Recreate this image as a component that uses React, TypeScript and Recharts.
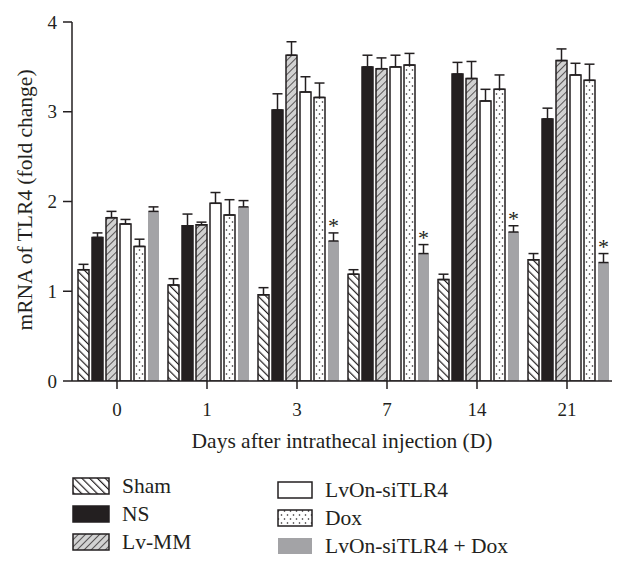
import { BarChart, Bar, XAxis, YAxis, ErrorBar, LabelList } from 'recharts';

const days = ['0', '1', '3', '7', '14', '21'];

const sham = [1.24, 1.07, 0.96, 1.19, 1.13, 1.35];
const shamErr = [0.06, 0.07, 0.08, 0.05, 0.06, 0.07];
const ns = [1.6, 1.73, 3.02, 3.5, 3.42, 2.92];
const nsErr = [0.05, 0.13, 0.18, 0.13, 0.13, 0.12];
const lvmm = [1.82, 1.74, 3.63, 3.48, 3.37, 3.57];
const lvmmErr = [0.07, 0.03, 0.15, 0.12, 0.19, 0.13];
const lvon = [1.75, 1.98, 3.22, 3.5, 3.12, 3.41];
const lvonErr = [0.05, 0.12, 0.17, 0.13, 0.13, 0.13];
const dox = [1.5, 1.85, 3.16, 3.52, 3.25, 3.35];
const doxErr = [0.08, 0.17, 0.16, 0.13, 0.16, 0.18];
const combo = [1.89, 1.94, 1.56, 1.42, 1.66, 1.32];
const comboErr = [0.05, 0.07, 0.09, 0.1, 0.07, 0.1];
const significant = [false, false, true, true, true, true];

const yTicks = [0, 1, 2, 3, 4];

const data = days.map((d, i) => ({
  day: d,
  sham: sham[i],
  shamErr: [0, shamErr[i]],
  ns: ns[i],
  nsErr: [0, nsErr[i]],
  lvmm: lvmm[i],
  lvmmErr: [0, lvmmErr[i]],
  lvon: lvon[i],
  lvonErr: [0, lvonErr[i]],
  dox: dox[i],
  doxErr: [0, doxErr[i]],
  combo: combo[i],
  comboErr: [0, comboErr[i]],
}));

const FONT = '"Liberation Serif", "DejaVu Serif", serif';
const INK = '#231f20';
const GRAY = '#a3a3a6';

// asterisk sits just above the error bar of the gray bar
const Star = (props: any) => {
  const { x, y, width, height, value, index } = props;
  if (!significant[index]) return null;
  const errPx = (comboErr[index] * height) / value;
  return (
    <text
      x={x + width / 2}
      y={y - errPx}
      textAnchor="middle"
      fontFamily={FONT}
      fontSize={22}
      fill={INK}
    >
      *
    </text>
  );
};

const Swatch = ({ fill, stroke, w }: { fill: string; stroke?: string; w: number }) => (
  <svg width={w} height={18} style={{ display: 'block' }}>
    <rect x={1} y={1} width={w - 2} height={16} fill={fill} stroke={stroke || 'none'} strokeWidth={1.5} />
  </svg>
);

const PatternDefs = () => (
  <defs>
    <pattern id="back" width={5.5} height={5.5} patternUnits="userSpaceOnUse" patternTransform="rotate(-45)">
      <rect width={5.5} height={5.5} fill="#fff" />
      <line x1={0} y1={0} x2={0} y2={5.5} stroke={INK} strokeWidth={2.4} />
    </pattern>
    <pattern id="fwd" width={5} height={5} patternUnits="userSpaceOnUse" patternTransform="rotate(45)">
      <rect width={5} height={5} fill="#d2d2d2" />
      <line x1={0} y1={0} x2={0} y2={5} stroke={INK} strokeWidth={1.4} />
    </pattern>
    <pattern id="dots" width={6} height={8} patternUnits="userSpaceOnUse">
      <rect width={6} height={8} fill="#fff" />
      <circle cx={1.5} cy={2} r={0.8} fill={INK} />
      <circle cx={4.5} cy={6} r={0.8} fill={INK} />
    </pattern>
  </defs>
);

const legendLeft = [
  { name: 'Sham', fill: 'url(#back)', stroke: INK },
  { name: 'NS', fill: INK, stroke: INK },
  { name: 'Lv-MM', fill: 'url(#fwd)', stroke: INK },
];
const legendRight = [
  { name: 'LvOn-siTLR4', fill: '#fff', stroke: INK },
  { name: 'Dox', fill: 'url(#dots)', stroke: INK },
  { name: 'LvOn-siTLR4 + Dox', fill: GRAY },
];

export default function App() {
  const err = (key: string) => (
    <ErrorBar dataKey={key} direction="y" width={5} stroke={INK} strokeWidth={1.5} isAnimationActive={false} />
  );
  return (
    <div style={{ position: 'absolute', left: 0, top: 0, width: 628, height: 563, background: '#fff', fontFamily: FONT, color: INK }}>
      <svg width={0} height={0} style={{ position: 'absolute' }}>
        <PatternDefs />
      </svg>
      <BarChart
        width={628}
        height={420}
        data={data}
        margin={{ top: 22, right: 16, left: 0, bottom: 9 }}
        barCategoryGap={6}
        barGap={3}
      >
        <XAxis
          dataKey="day"
          height={30}
          tick={{ fontFamily: FONT, fontSize: 19, fill: INK }}
          stroke={INK}
          strokeWidth={1.5}
          tickSize={8}
          tickMargin={14}
        />
        <YAxis
          width={72}
          domain={[0, 4]}
          ticks={yTicks}
          allowDataOverflow
          tick={{ fontFamily: FONT, fontSize: 19, fill: INK }}
          stroke={INK}
          strokeWidth={1.5}
          tickSize={9}
          tickMargin={6}
        />
        <Bar dataKey="sham" fill="url(#back)" stroke={INK} strokeWidth={1.5} isAnimationActive={false}>
          {err('shamErr')}
        </Bar>
        <Bar dataKey="ns" fill={INK} stroke={INK} strokeWidth={1.5} isAnimationActive={false}>
          {err('nsErr')}
        </Bar>
        <Bar dataKey="lvmm" fill="url(#fwd)" stroke={INK} strokeWidth={1.5} isAnimationActive={false}>
          {err('lvmmErr')}
        </Bar>
        <Bar dataKey="lvon" fill="#fff" stroke={INK} strokeWidth={1.5} isAnimationActive={false}>
          {err('lvonErr')}
        </Bar>
        <Bar dataKey="dox" fill="url(#dots)" stroke={INK} strokeWidth={1.5} isAnimationActive={false}>
          {err('doxErr')}
        </Bar>
        <Bar dataKey="combo" fill={GRAY} isAnimationActive={false}>
          {err('comboErr')}
          <LabelList dataKey="combo" content={Star} />
        </Bar>
      </BarChart>

      <div
        style={{
          position: 'absolute',
          left: 25 - 200,
          top: 200 - 13,
          width: 400,
          height: 26,
          lineHeight: '26px',
          textAlign: 'center',
          fontSize: 21.5,
          transform: 'rotate(-90deg)',
          whiteSpace: 'nowrap',
        }}
      >
        mRNA of TLR4 (fold change)
      </div>
      <div
        style={{
          position: 'absolute',
          left: 342 - 200,
          top: 441 - 13,
          width: 400,
          height: 26,
          lineHeight: '26px',
          textAlign: 'center',
          fontSize: 21.5,
          whiteSpace: 'nowrap',
        }}
      >
        Days after intrathecal injection (D)
      </div>

      {[legendLeft, legendRight].map((col, c) => (
        <div key={c} style={{ position: 'absolute', left: c === 0 ? 72 : 277, top: c === 0 ? 472 : 476 }}>
          {col.map((it) => (
            <div key={it.name} style={{ display: 'flex', alignItems: 'center', height: 28 }}>
              <Swatch fill={it.fill} stroke={it.stroke} w={c === 0 ? 38 : 36} />
              <span style={{ marginLeft: 12, fontSize: 21.5, lineHeight: '18px', whiteSpace: 'nowrap' }}>{it.name}</span>
            </div>
          ))}
        </div>
      ))}
    </div>
  );
}
